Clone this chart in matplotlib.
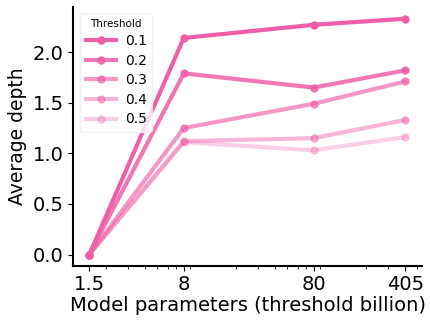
import numpy as np
import matplotlib
matplotlib.use("Agg")
import matplotlib.pyplot as plt
from matplotlib.ticker import FixedLocator, FixedFormatter, LogLocator, NullFormatter

# model sizes (billion params)
sizes = [1.5, 8, 80, 405]
size_labels = ["1.5", "8", "80", "405"]
thresholds = ["0.1", "0.2", "0.3", "0.4", "0.5"]

depth_01 = [0.0, 2.14, 2.27, 2.33]
depth_02 = [0.0, 1.79, 1.65, 1.82]
depth_03 = [0.0, 1.25, 1.49, 1.71]
depth_04 = [0.0, 1.12, 1.15, 1.33]
depth_05 = [0.0, 1.11, 1.03, 1.16]

series = [depth_01, depth_02, depth_03, depth_04, depth_05]
alphas = [1.0, 0.85, 0.65, 0.45, 0.3]
color = "#ef5fa7"

fig, ax = plt.subplots(figsize=(4.31, 3.28), dpi=100)

for th, vals, a in zip(thresholds, series, alphas):
    ax.plot(sizes, vals, marker="o", markersize=5, linewidth=3,
            color=color, alpha=a, label=th)

ax.set_xscale("log")
ax.set_xlim(1.13, 547)
ax.set_ylim(-0.11, 2.45)
ax.xaxis.set_major_locator(FixedLocator(sizes))
ax.xaxis.set_major_formatter(FixedFormatter(size_labels))
ax.xaxis.set_minor_locator(LogLocator(base=10, subs=np.arange(2, 10)))
ax.xaxis.set_minor_formatter(NullFormatter())
ax.set_yticks([0.0, 0.5, 1.0, 1.5, 2.0])

ax.tick_params(axis="both", labelsize=14)
ax.set_xlabel("Model parameters (threshold billion)", fontsize=14, labelpad=1)
ax.set_ylabel("Average depth", fontsize=13.5)

ax.spines["top"].set_visible(False)
ax.spines["right"].set_visible(False)
ax.spines["left"].set_linewidth(1.5)
ax.spines["bottom"].set_linewidth(1.5)

leg = ax.legend(title="Threshold", fontsize=10, title_fontsize=7.5,
                loc="upper left", bbox_to_anchor=(0.02, 0.975),
                borderaxespad=0, handlelength=2.2, handletextpad=0.6,
                labelspacing=0.4, borderpad=0.4)
leg.get_frame().set_edgecolor("#eeeeee")

fig.subplots_adjust(left=0.17, right=0.98, bottom=0.19, top=0.98)
fig.savefig("out.png", dpi=100)
